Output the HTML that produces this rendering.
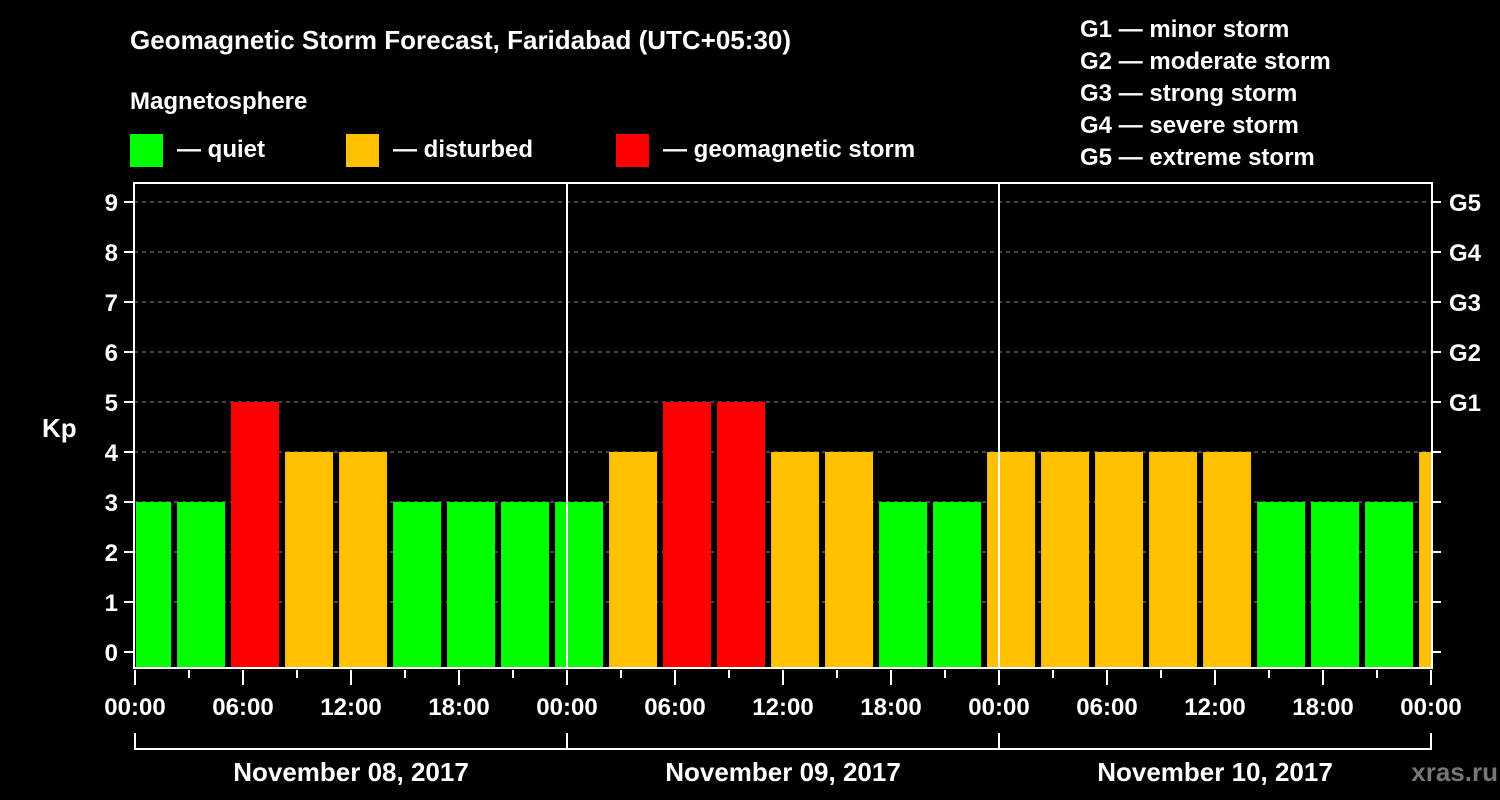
<!DOCTYPE html>
<html><head><meta charset="utf-8"><style>
html,body{margin:0;padding:0;background:#000;}
svg{display:block;font-family:"Liberation Sans",Arial,sans-serif;font-weight:bold;}
</style></head><body>
<svg id="chart" width="1500" height="800" viewBox="0 0 1500 800">
<rect width="1500" height="800" fill="#000"/>
<text x="130" y="49" fill="#fff" font-size="26">Geomagnetic Storm Forecast, Faridabad (UTC+05:30)</text>
<text x="130" y="109" fill="#fff" font-size="24">Magnetosphere</text>
<g><rect x="130" y="134" width="33" height="33" fill="#00ff00"/><text x="177" y="157" fill="#fff" font-size="24">— quiet</text></g>
<g><rect x="346" y="134" width="33" height="33" fill="#ffc000"/><text x="393" y="157" fill="#fff" font-size="24">— disturbed</text></g>
<g><rect x="616" y="134" width="33" height="33" fill="#ff0000"/><text x="663" y="157" fill="#fff" font-size="24">— geomagnetic storm</text></g>
<g fill="#fff" font-size="24">
<text x="1080" y="37">G1 — minor storm</text>
<text x="1080" y="69">G2 — moderate storm</text>
<text x="1080" y="101">G3 — strong storm</text>
<text x="1080" y="133">G4 — severe storm</text>
<text x="1080" y="165">G5 — extreme storm</text>
</g>
<text x="42" y="437" fill="#fff" font-size="26">Kp</text>
<text x="1498" y="781" fill="#777" font-size="26" text-anchor="end">xras.ru</text>
<g id="plot"></g>
</svg>
<script>
const kpValues = [3,3,5,4,4,3,3,3,3,4,5,5,4,4,3,3,4,4,4,4,4,3,3,3,4];
const yTicks = [0,1,2,3,4,5,6,7,8,9];
const gLabels = ["G1","G2","G3","G4","G5"];
const xLabels = ["00:00","06:00","12:00","18:00","00:00","06:00","12:00","18:00","00:00","06:00","12:00","18:00","00:00"];
const dayLabels = ["November 08, 2017","November 09, 2017","November 10, 2017"];
const L=134,R=1432,T=183,B=668,X0=135,PXH=18,Y0=652,PXK=50;
const firstBarHour=-0.83; // start of first 3h slot (local time offset)
const xs=h=>X0+h*PXH, ys=k=>Y0-k*PXK;
const NS="http://www.w3.org/2000/svg", g=document.getElementById('plot');
function mk(t,a,p){const e=document.createElementNS(NS,t);for(const k in a)e.setAttribute(k,a[k]);(p||g).appendChild(e);return e;}
const clip=mk('clipPath',{id:'pc'});mk('rect',{x:L+2,y:T,width:R-L-3,height:B-T},clip);
yTicks.forEach(k=>{
 if(k>0){const gl=mk('line',{x1:L,x2:R,y1:ys(k),y2:ys(k),stroke:'#888','stroke-dasharray':'4,4','stroke-width':1});
 
 }
 mk('line',{x1:L-10,x2:L,y1:ys(k),y2:ys(k),stroke:'#fff','stroke-width':2});
 mk('line',{x1:R,x2:R+9,y1:ys(k),y2:ys(k),stroke:'#fff','stroke-width':2});
 const t=mk('text',{x:L-16,y:ys(k)+9,fill:'#fff','font-size':24,'text-anchor':'end'});t.textContent=k;
 
 
});
gLabels.forEach((s,i)=>{const t=mk('text',{x:R+17,y:ys(5+i)+9,fill:'#fff','font-size':24});t.textContent=s;
 
 });
const bg=mk('g',{'clip-path':'url(#pc)'});
kpValues.forEach((v,i)=>{
 const h0=firstBarHour+i*3, x=xs(h0)+3, w=3*PXH-6;
 const c=v>=5?'#ff0000':(v>=4?'#ffc000':'#00ff00');
 const r=mk('rect',{x:x,y:ys(v),width:w,height:B-ys(v),fill:c},bg);
 
 
});
mk('line',{x1:xs(24),x2:xs(24),y1:T,y2:B,stroke:'#fff','stroke-width':2});
mk('line',{x1:xs(48),x2:xs(48),y1:T,y2:B,stroke:'#fff','stroke-width':2});
const fr=mk('rect',{x:L,y:T,width:R-L,height:B-T,fill:'none',stroke:'#fff','stroke-width':2});


for(let h=0;h<=72;h+=3){const maj=h%6===0;mk('line',{x1:xs(h),x2:xs(h),y1:B+2,y2:B+(maj?17:10),stroke:'#fff','stroke-width':2});}
xLabels.forEach((s,i)=>{const t=mk('text',{x:xs(i*6),y:715,fill:'#fff','font-size':24,'text-anchor':'middle'});t.textContent=s;
 
 });
dayLabels.forEach((s,i)=>{
 mk('polyline',{points:`${xs(i*24)},733 ${xs(i*24)},749 ${xs(i*24+24)},749 ${xs(i*24+24)},733`,fill:'none',stroke:'#fff','stroke-width':2});
 const t=mk('text',{x:xs(i*24+12),y:781,fill:'#fff','font-size':26,'text-anchor':'middle'});t.textContent=s;
 
 
});
</script>
</body></html>
